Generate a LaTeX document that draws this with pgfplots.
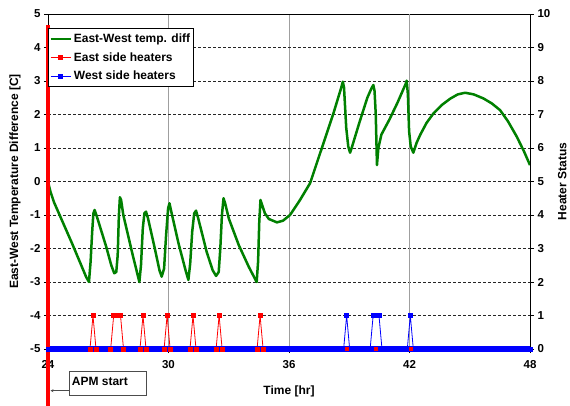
\documentclass[border=0pt]{standalone}
\usepackage{pgfplots}
\pgfplotsset{compat=1.18}
\usepackage{pgfplotstable}
\usepackage{fontspec}
\setmainfont{Liberation Sans}
\usetikzlibrary{arrows.meta}
\definecolor{dgreen}{RGB}{0,128,0}
\pgfplotstableread{
t v
24.00 0.00
24.12 -0.30
24.30 -0.62
25.20 -1.85
25.90 -2.85
26.04 -3.00
26.12 -2.40
26.20 -1.50
26.26 -0.95
26.32 -0.85
26.42 -1.02
26.90 -1.95
27.15 -2.50
27.30 -2.74
27.40 -2.70
27.47 -2.20
27.53 -1.00
27.58 -0.47
27.64 -0.55
27.75 -1.00
28.20 -2.15
28.55 -3.00
28.63 -2.50
28.72 -1.40
28.80 -0.95
28.88 -0.90
28.98 -1.10
29.30 -1.95
29.55 -2.65
29.66 -2.84
29.78 -2.60
29.88 -1.60
29.98 -0.80
30.05 -0.65
30.12 -0.85
30.50 -1.85
30.85 -2.65
30.99 -2.94
31.08 -2.45
31.18 -1.50
31.28 -0.95
31.37 -0.87
31.48 -1.10
31.90 -2.10
32.20 -2.65
32.37 -2.82
32.50 -2.70
32.58 -2.00
32.66 -1.00
32.74 -0.50
32.82 -0.65
33.00 -1.10
33.50 -1.90
34.00 -2.55
34.39 -3.00
34.46 -2.40
34.52 -1.20
34.58 -0.55
34.66 -0.70
34.80 -0.95
35.00 -1.12
35.40 -1.22
35.70 -1.17
36.05 -1.00
36.55 -0.55
37.05 -0.05
37.63 0.99
38.21 2.03
38.60 2.80
38.68 2.98
38.74 2.80
38.85 1.60
38.95 1.05
39.04 0.86
39.12 1.00
39.50 1.75
39.90 2.50
40.12 2.80
40.20 2.88
40.26 2.70
40.32 2.00
40.38 0.49
40.45 1.00
40.60 1.40
41.00 1.85
41.40 2.35
41.80 2.90
41.86 3.01
41.92 2.60
41.98 1.50
42.06 1.05
42.19 0.86
42.35 1.15
42.53 1.39
42.85 1.75
43.19 2.03
43.60 2.28
44.02 2.47
44.40 2.60
44.77 2.65
45.20 2.60
45.68 2.48
46.10 2.33
46.51 2.13
46.90 1.80
47.34 1.34
47.70 0.90
48.00 0.49
}\tempdata
\pgfplotstableread{
t s
24.00 0
26.09 0
26.24 1
26.39 0
27.12 0
27.27 1
27.44 1
27.61 1
27.76 0
28.58 0
28.73 1
28.88 0
29.78 0
29.93 1
30.08 0
31.07 0
31.22 1
31.37 0
32.37 0
32.52 1
32.67 0
34.41 0
34.56 1
34.71 0
48.00 0
}\eastdata
\pgfplotstableread{
t s
24.00 0
38.72 0
38.87 1
39.02 0
40.04 0
40.19 1
40.33 1
40.48 1
40.63 0
41.89 0
42.04 1
42.19 0
48.00 0
}\westdata
\begin{document}
\begin{tikzpicture}[font=\bfseries\fontsize{12}{14}\selectfont]
\useasboundingbox (0pt,0pt) rectangle (570pt,405pt);
\begin{axis}[
 at={(48pt,56pt)}, anchor=south west,
 scale only axis, width=482pt, height=335pt,
 xmin=24, xmax=48, ymin=-5, ymax=5,
 xtick={24,30,36,48}, ytick={-5,-4,...,5},
 extra x ticks={42},
 extra x tick style={grid style={black, line width=0.8pt}},
 xtick pos=bottom, ytick pos=left,
 tick align=outside, major tick length=4pt,
 xmajorgrids, ymajorgrids,
 x grid style={gray!75, line width=0.8pt},
 y grid style={black!85, dash pattern=on 3pt off 2pt, line width=0.8pt},
 axis line style={black, line width=0.8pt},
 tick style={black, line width=0.8pt},
 /pgf/number format/assume math mode=true,
 ticklabel style={font=\bfseries\fontsize{11.5}{13}\selectfont},
 xticklabel style={yshift=-4pt},
 xlabel={Time [hr]}, ylabel={East-West Temperature Difference [C]},
 xlabel style={at={(axis description cs:0.5,-0.128)}, anchor=center},
 ylabel style={at={(axis description cs:-0.0685,0.5)}, anchor=center},
]
\addplot[dgreen, line width=2.5pt, line join=round] table[x=t, y=v] {\tempdata};
\end{axis}
\begin{axis}[
 at={(48pt,56pt)}, anchor=south west,
 scale only axis, width=482pt, height=335pt,
 xmin=24, xmax=48, ymin=0, ymax=10,
 axis x line=none, axis y line*=right,
 ytick={0,1,...,10},
 tick align=outside, major tick length=4pt,
 axis line style={-, black, line width=0.8pt},
 tick style={black, line width=0.8pt},
 /pgf/number format/assume math mode=true,
 ticklabel style={font=\bfseries\fontsize{11.5}{13}\selectfont},
 ylabel={Heater Status},
 ylabel style={at={(axis description cs:1.067,0.5)}, anchor=center},
 clip=false,
 legend style={at={(axis description cs:0,0.957)}, anchor=north west,
   draw=black, line width=0.8pt, fill=white,
   font=\bfseries\fontsize{12}{14}\selectfont,
   inner xsep=1pt, inner ysep=3pt, row sep=4.5pt},
 legend cell align=left,
 legend image code/.code={\draw[mark repeat=2,mark phase=2,#1] plot coordinates {(0pt,0pt)(10pt,0pt)(20pt,0pt)};},
]
\addlegendimage{dgreen, line width=2.5pt}
\addlegendentry{East-West temp. diff}
\addplot[red, line width=0.8pt, mark=square*, mark size=2pt] table[x=t, y=s] {\eastdata};
\addlegendentry{East side heaters}
\addplot[blue, line width=5.5pt, forget plot] coordinates {(24,0) (48,0)};
\addplot[blue, line width=0.8pt, mark=square*, mark size=2pt] table[x=t, y=s] {\westdata};
\addlegendentry{West side heaters}
\addplot[red, only marks, mark=square*, mark size=1.5pt, forget plot] coordinates {(38.87,0) (40.33,0) (42.04,0)};
\addplot[red, line width=4.5pt, forget plot] coordinates {(24,9.67) (24,-1.75)};
\end{axis}
\draw[gray!60!black, line width=0.8pt, fill=white] (69.3pt,33.3pt) rectangle (146pt,9.3pt);
\node[anchor=base west, inner sep=0pt] at (71.7pt,20pt) {APM start};
\draw[-{Stealth[length=3pt,width=3pt]}, gray!60!black, line width=0.6pt] (69.3pt,14.3pt) -- (50.5pt,14.3pt);
\end{tikzpicture}
\end{document}
